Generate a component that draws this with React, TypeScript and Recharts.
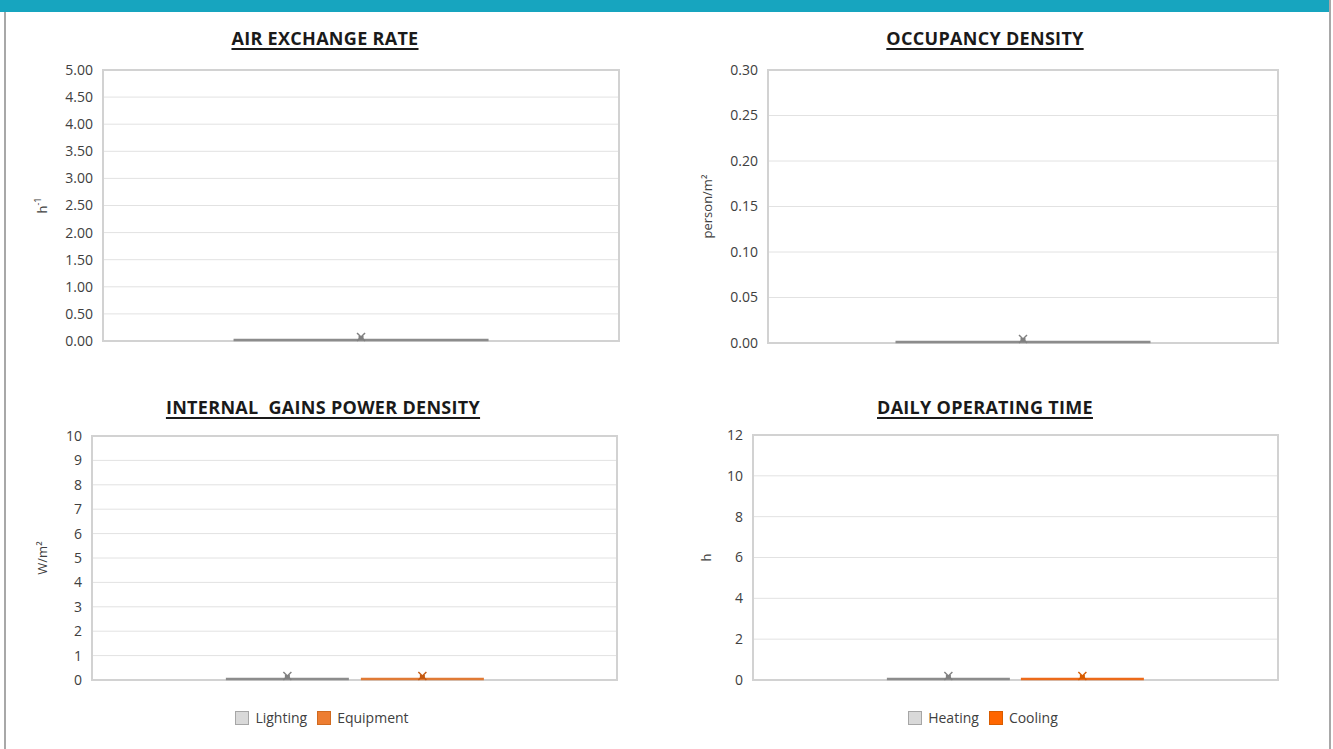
import React from 'react';
import { BarChart, Bar, XAxis, YAxis, CartesianGrid, ReferenceArea, Legend } from 'recharts';

// ---------- data ----------
const categories = ['Zone'];
const airExchangeValues = [0];
const occupancyValues = [0];
const lightingValues = [0];
const equipmentValues = [0];
const heatingValues = [0];
const coolingValues = [0];

const airTicks = [0, 0.5, 1, 1.5, 2, 2.5, 3, 3.5, 4, 4.5, 5];
const occTicks = [0, 0.05, 0.1, 0.15, 0.2, 0.25, 0.3];
const gainTicks = [0, 1, 2, 3, 4, 5, 6, 7, 8, 9, 10];
const timeTicks = [0, 2, 4, 6, 8, 10, 12];

const gainSeries = ['Lighting', 'Equipment'];
const timeSeries = ['Heating', 'Cooling'];

const airData = categories.map((c, i) => ({ category: c, value: airExchangeValues[i] }));
const occData = categories.map((c, i) => ({ category: c, value: occupancyValues[i] }));
const gainData = categories.map((c, i) => ({ category: c, Lighting: lightingValues[i], Equipment: equipmentValues[i] }));
const timeData = categories.map((c, i) => ({ category: c, Heating: heatingValues[i], Cooling: coolingValues[i] }));

// ---------- styles ----------
const FONT = "'Open Sans', 'Noto Sans', sans-serif";
const TICK = { fill: '#404040', fontSize: 14, fontFamily: FONT };
const GRID = '#e2e2e2';
const BORDER = '#d2d2d2';

const legendBorders: Record<string, string> = {
  Lighting: '#a6a6a6',
  Equipment: '#d06a20',
  Heating: '#a6a6a6',
  Cooling: '#d85c00',
};

const makeShape = (lineColor: string, markerColor: string) => (props: any) => {
  const { x, y, width, height } = props;
  if (x == null || y == null || isNaN(x) || isNaN(y)) return <g />;
  const base = y + (height || 0);
  const ly = base - 1;
  const cx = x + width / 2;
  return (
    <g>
      <line x1={x} x2={x + width} y1={ly} y2={ly} stroke={lineColor} strokeWidth={2.5} />
      <line x1={cx - 4} y1={ly - 7} x2={cx + 4} y2={ly + 1} stroke={markerColor} strokeWidth={1.5} />
      <line x1={cx + 4} y1={ly - 7} x2={cx - 4} y2={ly + 1} stroke={markerColor} strokeWidth={1.5} />
      <rect x={cx - 2.5} y={ly - 4} width={5} height={4} fill={markerColor} />
    </g>
  );
};

const yLabel = (text: React.ReactNode, lx: number) => (props: any) => {
  const vb = props.viewBox || {};
  const cy = (vb.y || 0) + (vb.height || 0) / 2;
  return (
    <text
      x={lx}
      y={cy}
      transform={`rotate(-90, ${lx}, ${cy})`}
      textAnchor="middle"
      dominantBaseline="central"
      fill="#404040"
      fontSize={13}
      fontFamily={FONT}
    >
      {text}
    </text>
  );
};

const renderLegend = (shift: number, order: string[]) => (props: any) => {
  const payload = [...(props.payload || [])].sort(
    (a: any, b: any) => order.indexOf(a.value) - order.indexOf(b.value)
  );
  return (
    <div
      style={{
        display: 'flex',
        justifyContent: 'center',
        alignItems: 'flex-start',
        paddingLeft: shift,
        height: 40,
        paddingTop: 7,
        boxSizing: 'border-box',
        fontFamily: FONT,
        fontSize: 14,
        lineHeight: '19px',
        color: '#404040',
      }}
    >
      {payload.map((it: any) => (
        <div key={it.value} style={{ display: 'flex', alignItems: 'center', marginRight: 10 }}>
          <span
            style={{
              display: 'inline-block',
              width: 14,
              height: 14,
              background: it.color,
              border: `1px solid ${legendBorders[it.value] || '#999'}`,
              boxSizing: 'border-box',
              marginRight: 6,
            }}
          />
          <span>{it.value}</span>
        </div>
      ))}
    </div>
  );
};

const Title = ({ text, left, width, top }: { text: string; left: number; width: number; top: number }) => (
  <div
    style={{
      position: 'absolute',
      left,
      top,
      width,
      textAlign: 'center',
      fontFamily: FONT,
      fontWeight: 700,
      fontSize: 18,
      lineHeight: '18px',
      color: '#1a1a1a',
      textDecoration: 'underline',
      textDecorationThickness: '2px',
      textUnderlineOffset: '3px',
      letterSpacing: '0.3px',
      whiteSpace: 'pre',
    }}
  >
    {text}
  </div>
);

export default function App() {
  return (
    <div style={{ position: 'absolute', left: 0, top: 0, width: 1333, height: 749, background: '#fff', overflow: 'hidden' }}>
      {/* header bar and frame */}
      <div style={{ position: 'absolute', left: 0, top: 0, width: 1331, height: 12, background: '#17a5bf' }} />
      <div style={{ position: 'absolute', left: 4, top: 12, width: 2, height: 737, background: '#a8a8a8' }} />
      <div style={{ position: 'absolute', left: 1329, top: 0, width: 2, height: 749, background: '#a8a8a8' }} />

      <Title text="AIR EXCHANGE RATE" left={0} width={650} top={29} />
      <Title text="OCCUPANCY DENSITY" left={660} width={650} top={29} />
      <Title text="INTERNAL  GAINS POWER DENSITY" left={0} width={646} top={398} />
      <Title text="DAILY OPERATING TIME" left={660} width={650} top={398} />

      {/* Chart 1 */}
      <div style={{ position: 'absolute', left: 0, top: 60 }}>
        <BarChart width={640} height={300} data={airData} margin={{ top: 10, right: 21, left: 0, bottom: 0 }} barCategoryGap="25.3%">
          <CartesianGrid vertical={false} stroke={GRID} />
          <XAxis dataKey="category" tick={false} axisLine={false} tickLine={false} height={19} />
          <YAxis
            width={103}
            domain={[0, 5]}
            ticks={airTicks}
            interval={0}
            tickFormatter={(v: number) => v.toFixed(2)}
            tick={TICK}
            axisLine={false}
            tickLine={false}
            tickMargin={4}
            label={yLabel(<>h<tspan dy={-5} fontSize={9}>-1</tspan></>, 42)}
          />
          <ReferenceArea y1={0} y2={5} stroke={BORDER} strokeWidth={2} fill="none" fillOpacity={0} />
          <Bar dataKey="value" name="Air exchange" fill="#a6a6a6" isAnimationActive={false} shape={makeShape('#8c8c8c', '#808080')} />
        </BarChart>
      </div>

      {/* Chart 2 */}
      <div style={{ position: 'absolute', left: 660, top: 60 }}>
        <BarChart width={640} height={300} data={occData} margin={{ top: 10, right: 22, left: 0, bottom: 0 }} barCategoryGap="25%">
          <CartesianGrid vertical={false} stroke={GRID} />
          <XAxis dataKey="category" tick={false} axisLine={false} tickLine={false} height={17} />
          <YAxis
            width={108}
            domain={[0, 0.3]}
            ticks={occTicks}
            interval={0}
            tickFormatter={(v: number) => v.toFixed(2)}
            tick={TICK}
            axisLine={false}
            tickLine={false}
            tickMargin={4}
            label={yLabel('person/m²', 47)}
          />
          <ReferenceArea y1={0} y2={0.3} stroke={BORDER} strokeWidth={2} fill="none" fillOpacity={0} />
          <Bar dataKey="value" name="Occupancy" fill="#a6a6a6" isAnimationActive={false} shape={makeShape('#8c8c8c', '#808080')} />
        </BarChart>
      </div>

      {/* Chart 3 */}
      <div style={{ position: 'absolute', left: 0, top: 426 }}>
        <BarChart width={640} height={315} data={gainData} margin={{ top: 10, right: 23, left: 0, bottom: 0 }} barCategoryGap="25.5%" barGap={12}>
          <CartesianGrid vertical={false} stroke={GRID} />
          <XAxis dataKey="category" tick={false} axisLine={false} tickLine={false} height={21} />
          <YAxis
            width={92}
            domain={[0, 10]}
            ticks={gainTicks}
            interval={0}
            tick={TICK}
            axisLine={false}
            tickLine={false}
            tickMargin={4}
            label={yLabel('W/m²', 42)}
          />
          <ReferenceArea y1={0} y2={10} stroke={BORDER} strokeWidth={2} fill="none" fillOpacity={0} />
          <Legend verticalAlign="bottom" content={renderLegend(37, gainSeries)} wrapperStyle={{ height: 40 }} />
          <Bar dataKey="Lighting" fill="#d9d9d9" isAnimationActive={false} shape={makeShape('#8c8c8c', '#808080')} />
          <Bar dataKey="Equipment" fill="#ed7d31" isAnimationActive={false} shape={makeShape('#e07a35', '#c55a11')} />
        </BarChart>
      </div>

      {/* Chart 4 */}
      <div style={{ position: 'absolute', left: 660, top: 425 }}>
        <BarChart width={640} height={316} data={timeData} margin={{ top: 10, right: 22, left: 0, bottom: 0 }} barCategoryGap="25.5%" barGap={11}>
          <CartesianGrid vertical={false} stroke={GRID} />
          <XAxis dataKey="category" tick={false} axisLine={false} tickLine={false} height={21} />
          <YAxis
            width={93}
            domain={[0, 12]}
            ticks={timeTicks}
            interval={0}
            tick={TICK}
            axisLine={false}
            tickLine={false}
            tickMargin={4}
            label={yLabel('h', 46)}
          />
          <ReferenceArea y1={0} y2={12} stroke={BORDER} strokeWidth={2} fill="none" fillOpacity={0} />
          <Legend verticalAlign="bottom" content={renderLegend(38, timeSeries)} wrapperStyle={{ height: 40 }} />
          <Bar dataKey="Heating" fill="#d9d9d9" isAnimationActive={false} shape={makeShape('#8c8c8c', '#808080')} />
          <Bar dataKey="Cooling" fill="#ff6600" isAnimationActive={false} shape={makeShape('#ec6a1a', '#d85c00')} />
        </BarChart>
      </div>
    </div>
  );
}
